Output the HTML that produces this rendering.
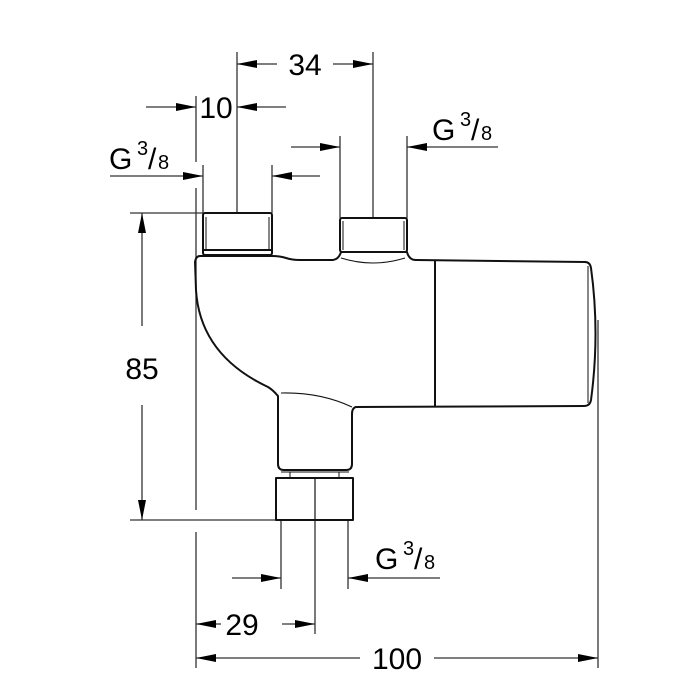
<!DOCTYPE html>
<html><head><meta charset="utf-8"><style>html,body{margin:0;padding:0;background:#fff}svg{display:block}</style></head><body>
<svg width="700" height="700" viewBox="0 0 700 700" xmlns="http://www.w3.org/2000/svg" font-family="Liberation Sans, Arial, sans-serif">
<defs>
<marker id="a" viewBox="0 0 10 4" refX="10" refY="2" markerWidth="24" markerHeight="8" markerUnits="userSpaceOnUse" orient="auto"><path d="M0,0 L10,2 L0,4 z" fill="#000"/></marker>
</defs>
<g stroke="#333" stroke-width="1.3" fill="none">
<line x1="237" y1="52" x2="237" y2="213"/>
<line x1="373" y1="52" x2="373" y2="218"/>
<line x1="196" y1="96" x2="196" y2="162"/>
<line x1="196" y1="188" x2="196" y2="510"/>
<line x1="196" y1="532" x2="196" y2="668"/>
<line x1="203" y1="165" x2="203" y2="213"/>
<line x1="272" y1="165" x2="272" y2="213"/>
<line x1="340" y1="136" x2="340" y2="218"/>
<line x1="407" y1="136" x2="407" y2="218"/>
<line x1="130" y1="213" x2="203" y2="213"/>
<line x1="130" y1="520" x2="276" y2="520"/>
<line x1="598" y1="320" x2="598" y2="668"/>
<line x1="281" y1="520" x2="281" y2="589"/>
<line x1="348" y1="520" x2="348" y2="589"/>
<line x1="315" y1="520" x2="315" y2="634"/>
<line x1="277" y1="64" x2="237" y2="64" marker-end="url(#a)"/>
<line x1="333" y1="64" x2="373" y2="64" marker-end="url(#a)"/>
<line x1="146" y1="107" x2="196" y2="107" marker-end="url(#a)"/>
<line x1="286" y1="107" x2="237" y2="107" marker-end="url(#a)"/>
<line x1="110" y1="176" x2="203" y2="176" marker-end="url(#a)"/>
<line x1="320" y1="176" x2="272" y2="176" marker-end="url(#a)"/>
<line x1="291" y1="147" x2="340" y2="147" marker-end="url(#a)"/>
<line x1="498" y1="147" x2="407" y2="147" marker-end="url(#a)"/>
<line x1="142" y1="326" x2="142" y2="213" marker-end="url(#a)"/>
<line x1="142" y1="405" x2="142" y2="520" marker-end="url(#a)"/>
<line x1="232" y1="578" x2="281" y2="578" marker-end="url(#a)"/>
<line x1="440" y1="578" x2="348" y2="578" marker-end="url(#a)"/>
<line x1="221" y1="624" x2="196" y2="624" marker-end="url(#a)"/>
<line x1="282" y1="624" x2="315" y2="624" marker-end="url(#a)"/>
<line x1="360" y1="658" x2="196" y2="658" marker-end="url(#a)"/>
<line x1="434" y1="658" x2="598" y2="658" marker-end="url(#a)"/>
</g>
<g stroke="#111" stroke-width="2" fill="none" stroke-linejoin="round">
<rect x="203" y="213" width="69" height="42" rx="2"/>
<line x1="203" y1="250" x2="272" y2="250"/>
<line x1="206" y1="217" x2="206" y2="250" stroke-width="1"/>
<line x1="269" y1="217" x2="269" y2="250" stroke-width="1"/>
<rect x="340" y="218" width="67" height="34" rx="2"/>
<line x1="343" y1="221" x2="343" y2="250" stroke-width="1"/>
<line x1="404" y1="221" x2="404" y2="250" stroke-width="1"/>
<path d="M200,256 L272,256 Q280,256 286,258 Q292,260 300,260 L333,260 Q339,259 341,252 L407,252 Q409,260 416,260 L585,262 Q590,262 591,268 Q600,333 591,400 Q590,406 584,406 L356,407 Q352,408 352,414 L352,464 Q352,470 346,470 L284,470 Q278,470 278,464 L278,396 Q273,390 268,387 Q200,355 196,290 L195,262 Q196,256 200,256 Z"/>
<line x1="435" y1="260" x2="435" y2="407"/>
<line x1="588" y1="266" x2="588" y2="403" stroke-width="1"/>
<path d="M341,258 Q373,268 405,258" stroke-width="1"/>
<path d="M281,393 Q320,392 352,407" stroke-width="1"/>
<line x1="281" y1="472" x2="349" y2="472" stroke-width="1"/>
<line x1="290" y1="472" x2="290" y2="478" stroke-width="1"/>
<line x1="339" y1="472" x2="339" y2="478" stroke-width="1"/>
<rect x="276" y="478" width="77" height="42"/>
<line x1="315" y1="478" x2="315" y2="520" stroke-width="1.2"/>
</g>
<g font-size="30" fill="#000">
<text x="305" y="75" text-anchor="middle">34</text>
<text x="216" y="118" text-anchor="middle">10</text>
<text x="142" y="379" text-anchor="middle">85</text>
<text x="242" y="635" text-anchor="middle">29</text>
<text x="397" y="669" text-anchor="middle">100</text>
<text x="109" y="169">G</text><text x="137" y="155" font-size="20">3</text><text x="148" y="169">/</text><text x="158" y="169" font-size="20">8</text>
<text x="432" y="140">G</text><text x="460" y="126" font-size="20">3</text><text x="471" y="140">/</text><text x="481" y="140" font-size="20">8</text>
<text x="375" y="569">G</text><text x="403" y="555" font-size="20">3</text><text x="414" y="569">/</text><text x="424" y="569" font-size="20">8</text>
</g>
</svg>
</body></html>
